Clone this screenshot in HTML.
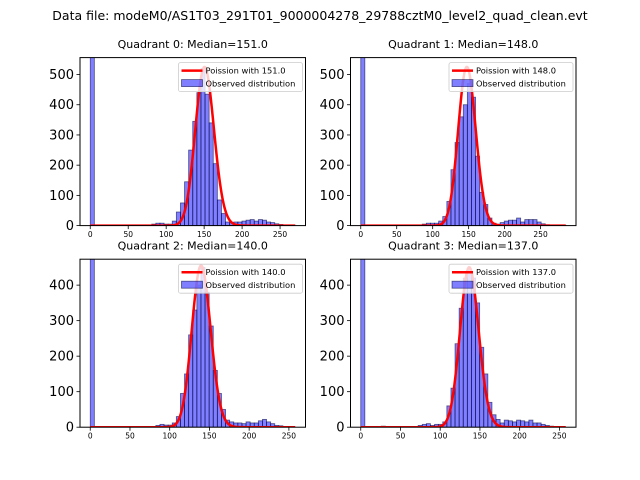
<!DOCTYPE html>
<html><head><meta charset="utf-8"><style>
html,body{margin:0;padding:0;background:#fff}
svg{display:block;font-family:"DejaVu Sans","Liberation Sans",sans-serif}
</style></head><body>
<svg id="fig" width="640" height="480" viewBox="0 0 640 480">
<rect width="640" height="480" fill="#fff"/>
<text x="320" y="20" font-size="12.5" text-anchor="middle">Data file: modeM0/AS1T03_291T01_9000004278_29788cztM0_level2_quad_clean.evt</text>
</svg>
<script>
const medians = [151, 148, 140, 137];
const dataMax = [270, 285, 258, 258];
const yMax = [556, 556, 473, 473];
const curvePeak = [525, 525, 455, 450];
const yTicks0 = [0, 100, 200, 300, 400, 500];
const yTicks1 = [0, 100, 200, 300, 400];
const xTicks = [0, 50, 100, 150, 200, 250];
const counts0 = [2000,0,0,0,0,0,0,0,0,0,0,0,0,0,0,5,8,8,5,5,15,45,75,145,250,345,440,520,435,340,205,85,40,12,10,12,12,15,18,20,15,20,18,12,10,6,4,2,1,0];
const counts1 = [2000,0,0,0,0,0,0,0,0,2,0,0,0,0,0,5,8,8,8,15,30,80,185,275,360,400,470,425,230,110,70,25,8,5,10,15,18,18,25,12,20,20,20,12,6,3,2,1,1,1];
const counts2 = [2000,0,0,0,0,0,0,0,0,0,0,0,0,0,2,2,5,8,6,6,12,30,95,150,260,330,400,450,380,285,160,95,50,20,15,12,12,10,15,12,12,18,22,15,10,5,4,2,1,0];
const counts3 = [2000,0,0,0,0,3,0,0,0,0,0,0,0,0,5,8,10,5,8,8,15,60,110,235,335,420,445,420,350,225,150,70,35,22,12,20,18,15,20,18,15,20,12,12,8,5,3,1,1,0];
const allCounts = [counts0, counts1, counts2, counts3];

const NS = "http://www.w3.org/2000/svg";
const svg = document.getElementById('fig');
function mk(tag, attrs, parent) {
  const e = document.createElementNS(NS, tag);
  for (const k in attrs) e.setAttribute(k, attrs[k]);
  (parent || svg).appendChild(e);
  return e;
}
const boxes = [
  {x:80, y:57.6}, {x:350.5, y:57.6}, {x:80, y:259.2}, {x:350.5, y:259.2}
];
const W = 225.5, H = 168;

function logPmf(k, mu) {
  let lf = 0; for (let i = 2; i <= k; i++) lf += Math.log(i);
  return k * Math.log(mu) - mu - lf;
}

boxes.forEach((b, q) => {
  const g = mk('g', {});
  
  
  const dmax = dataMax[q];
  const xmin = -0.05 * dmax, xmax = 1.05 * dmax;
  const sx = v => b.x + (v - xmin) / (xmax - xmin) * W;
  const sy = v => b.y + H - v / yMax[q] * H;
  const clipId = 'clip' + q;
  const defs = mk('defs', {}, g);
  const cp = mk('clipPath', {id: clipId}, defs);
  mk('rect', {x: b.x, y: b.y, width: W, height: H}, cp);
  const plot = mk('g', {'clip-path': 'url(#' + clipId + ')'}, g);
  const counts = allCounts[q];
  const bw = dmax / counts.length;
  counts.forEach((c, i) => {
    const x0 = sx(i * bw), x1 = sx((i + 1) * bw);
    const top = sy(Math.min(c, yMax[q] * 2));
    const r = mk('rect', {x: x0, y: top, width: x1 - x0, height: sy(0) - top,
      fill: 'rgba(0,0,255,0.5)', stroke: 'rgba(0,0,60,0.6)', 'stroke-width': 0.8}, plot);
    
    
  });
  const mu = medians[q];
  const peakLog = logPmf(Math.floor(mu), mu);
  let d = '';
  for (let k = 0; k <= dmax; k++) {
    const v = curvePeak[q] * Math.exp(logPmf(k, mu) - peakLog);
    d += (k ? 'L' : 'M') + sx(k).toFixed(2) + ',' + sy(v).toFixed(2);
  }
  const line = mk('path', {d: d, fill: 'none', stroke: '#ff0000', 'stroke-width': 2.5, 'stroke-linejoin': 'round'}, plot);
  
  
  const frame = mk('rect', {x: b.x, y: b.y, width: W, height: H, fill: 'none', stroke: '#000', 'stroke-width': 1}, g);
  
  
  xTicks.forEach(t => {
    const x = sx(t);
    mk('line', {x1: x, x2: x, y1: b.y + H, y2: b.y + H + 3.5, stroke: '#000', 'stroke-width': 0.8}, g);
    const tx = mk('text', {x: x, y: b.y + H + 11.5, 'font-size': 7.5, 'text-anchor': 'middle'}, g);
    tx.textContent = t;
    
    
  });
  const yt = q < 2 ? yTicks0 : yTicks1;
  yt.forEach(t => {
    const y = sy(t);
    mk('line', {x1: b.x - 3.5, x2: b.x, y1: y, y2: y, stroke: '#000', 'stroke-width': 0.8}, g);
    const tx = mk('text', {x: b.x - 6, y: y + 4.5, 'font-size': 13, 'text-anchor': 'end'}, g);
    tx.textContent = t;
    
    
  });
  const title = mk('text', {x: b.x + W / 2, y: b.y - 9.5, 'font-size': 11, 'text-anchor': 'middle'}, g);
  title.textContent = 'Quadrant ' + q + ': Median=' + mu.toFixed(1);
  
  
  const lx = b.x + W - 127, ly = b.y + 5;
  const lg = mk('g', {}, g);
  
  
  mk('rect', {x: lx, y: ly, width: 124, height: 29, rx: 2, fill: 'rgba(255,255,255,0.8)', stroke: '#ccc', 'stroke-width': 0.8}, lg);
  mk('line', {x1: lx + 3, x2: lx + 24, y1: ly + 8, y2: ly + 8, stroke: '#ff0000', 'stroke-width': 2.5}, lg);
  const t1 = mk('text', {x: lx + 27, y: ly + 11, 'font-size': 8.3}, lg);
  t1.textContent = 'Poission with ' + mu.toFixed(1);
  
  
  mk('rect', {x: lx + 3, y: ly + 17, width: 21, height: 7, fill: 'rgba(0,0,255,0.5)', stroke: 'rgba(0,0,60,0.6)', 'stroke-width': 0.8}, lg);
  const t2 = mk('text', {x: lx + 27, y: ly + 24, 'font-size': 8.3}, lg);
  t2.textContent = 'Observed distribution';
  
  
});
</script>
</body></html>
